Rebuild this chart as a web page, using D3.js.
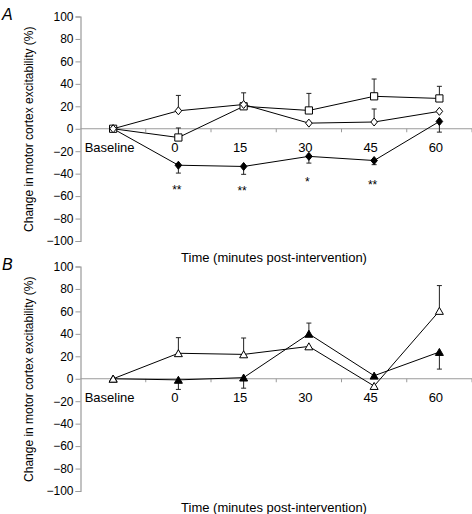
<!DOCTYPE html>
<html>
<head>
<meta charset="utf-8">
<script src="https://cdn.jsdelivr.net/npm/d3@7/dist/d3.min.js"></script>
<style>
  html, body { margin: 0; padding: 0; background: #fff; }
  svg { display: block; font-family: "Liberation Sans", Arial, sans-serif; }
</style>
</head>
<body>
<svg id="chart" width="472" height="514"></svg>
<script>
// ---- data ----
const categories = ["Baseline", "0", "15", "30", "45", "60"];
const yTickValues = [100, 80, 60, 40, 20, 0, -20, -40, -60, -80, -100];
const xTitle = "Time (minutes post-intervention)";
const yTitle = "Change in motor cortex excitability (%)";

// Panel A
const aOpenDiamond = [0, 16, 21.6, 5, 6, 15.5];
const aOpenDiamondErr = [null, 13.7, 10.4, null, 11.6, null];
const aOpenSquare = [0, -7.8, 20, 16.3, 28.9, 27];
const aOpenSquareErr = [null, 8.5, null, 15.2, 15.4, 10.8];
const aFilledDiamond = [0, -32.5, -33.6, -24.6, -28.3, 6.5];
const aFilledDiamondErr = [null, -7, -7, -6, -3.7, -9.5];
const aSigLabels = ["", "**", "**", "*", "**", ""];
const aSigY = [null, -51.6, -53.2, -44.8, -47.2, null];

// Panel B
const bOpenTriangle = [0, 22.7, 21.7, 28.8, -6.5, 60.4];
const bOpenTriangleErr = [null, 13.9, 14.6, null, null, 22.6];
const bFilledTriangle = [0, -1, 1, 40, 2.7, 23.8];
const bFilledTriangleErr = [null, -8.5, -9.4, 9.6, null, -15.2];

// ---- drawing ----
const svg = d3.select("#chart");
const x = d3.scaleBand().domain(categories).range([80.5, 472]).paddingInner(0).paddingOuter(0);
const cx = c => x(c) + x.bandwidth() / 2;

function markerPath(shape) {
  if (shape === "diamond") return "M0,-4 L3.3,0 L0,4 L-3.3,0 Z";
  if (shape === "square") return "M-3.6,-3.6 L3.6,-3.6 L3.6,3.6 L-3.6,3.6 Z";
  if (shape === "triangle") return "M0,-3.6 L4,3.4 L-4,3.4 Z";
}

function panel(offsetY, label, series, sig) {
  const g = svg.append("g");
  const y = d3.scaleLinear().domain([-100, 100]).range([241 + offsetY, 16.5 + offsetY]);

  // panel letter
  g.append("text").attr("x", 2).attr("y", 19.5 + offsetY)
    .attr("font-size", 16).attr("font-style", "italic").text(label);

  // y axis
  const yAxis = g.append("g").attr("transform", "translate(80.5,0)")
    .call(d3.axisLeft(y).tickValues(yTickValues).tickSize(5).tickPadding(2).tickFormat(d3.format("d")));
  yAxis.select(".domain").attr("stroke", "#9a9a9a").attr("stroke-width", 1.2);
  yAxis.selectAll(".tick line").attr("stroke", "#9a9a9a");
  yAxis.selectAll(".tick text").attr("font-size", 12).attr("fill", "#000")
    .attr("font-family", "Liberation Sans, Arial, sans-serif");

  // zero line (x axis)
  const y0 = y(0);
  g.append("line").attr("x1", 80.5).attr("x2", 472).attr("y1", y0).attr("y2", y0)
    .attr("stroke", "#9a9a9a").attr("stroke-width", 1.2);
  g.selectAll(".xt").data(categories.slice(1).concat(["__end"])).enter().append("line")
    .attr("x1", (d, i) => x(categories[0]) + x.bandwidth() * (i + 1))
    .attr("x2", (d, i) => x(categories[0]) + x.bandwidth() * (i + 1))
    .attr("y1", y0).attr("y2", y0 + 3.5)
    .attr("stroke", "#9a9a9a").attr("stroke-width", 1);
  g.selectAll(".xl").data(categories).enter().append("text")
    .attr("x", d => cx(d) - 3.5).attr("y", y0 + 23)
    .attr("text-anchor", "middle").attr("font-size", 13).text(d => d);

  // titles
  g.append("text").attr("transform", `translate(32.5,${y(0) + 0.5}) rotate(-90)`)
    .attr("text-anchor", "middle").attr("font-size", 12).text(yTitle);
  g.append("text").attr("x", 274).attr("y", 261.5 + offsetY)
    .attr("text-anchor", "middle").attr("font-size", 13).text(xTitle);

  const line = d3.line().x((d, i) => cx(categories[i])).y(d => y(d));

  // lines
  series.forEach(s => {
    g.append("path").attr("d", line(s.values)).attr("fill", "none")
      .attr("stroke", "#000").attr("stroke-width", 1);
  });
  // error bars
  series.forEach(s => {
    s.values.forEach((v, i) => {
      const e = s.errs[i];
      if (e === null) return;
      const px = cx(categories[i]);
      g.append("line").attr("x1", px).attr("x2", px).attr("y1", y(v)).attr("y2", y(v + e))
        .attr("stroke", "#222").attr("stroke-width", 1);
      g.append("line").attr("x1", px - 2.5).attr("x2", px + 2.5).attr("y1", y(v + e)).attr("y2", y(v + e))
        .attr("stroke", "#222").attr("stroke-width", 1);
    });
  });
  // markers
  series.forEach(s => {
    g.selectAll(null).data(s.values).enter().append("path")
      .attr("d", markerPath(s.shape))
      .attr("transform", (d, i) => `translate(${cx(categories[i])},${y(d)})`)
      .attr("fill", s.fill).attr("stroke", "#000").attr("stroke-width", 1);
  });
  // significance
  if (sig) {
    sig.labels.forEach((t, i) => {
      if (!t) return;
      g.append("text").attr("x", cx(categories[i]) - 1.5).attr("y", y(sig.ys[i]) + 7)
        .attr("text-anchor", "middle").attr("font-size", 12).text(t);
    });
  }
}

panel(0, "A", [
  { values: aFilledDiamond, errs: aFilledDiamondErr, shape: "diamond", fill: "#000" },
  { values: aOpenSquare, errs: aOpenSquareErr, shape: "square", fill: "#fff" },
  { values: aOpenDiamond, errs: aOpenDiamondErr, shape: "diamond", fill: "#fff" }
], { labels: aSigLabels, ys: aSigY });

panel(250, "B", [
  { values: bFilledTriangle, errs: bFilledTriangleErr, shape: "triangle", fill: "#000" },
  { values: bOpenTriangle, errs: bOpenTriangleErr, shape: "triangle", fill: "#fff" }
], null);
</script>
</body>
</html>
